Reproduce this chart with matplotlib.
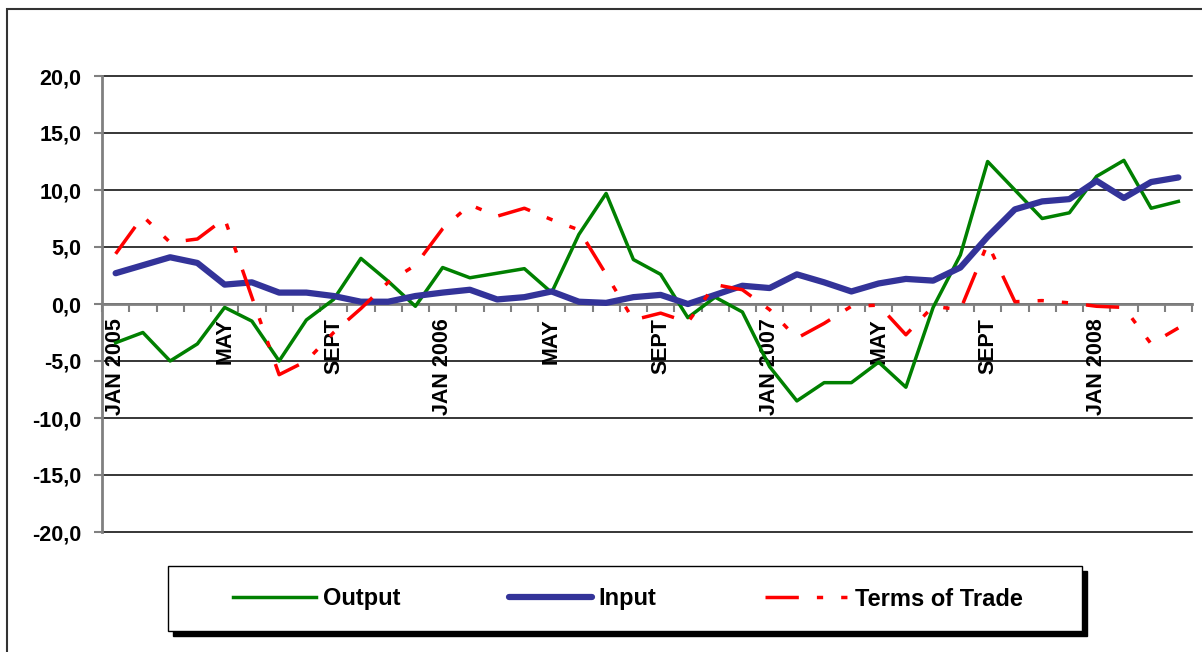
import matplotlib
matplotlib.use("Agg")
import matplotlib.pyplot as plt
import matplotlib.patches as mpatches
from matplotlib.ticker import FixedLocator, FuncFormatter
import numpy as np

plt.rcParams['font.family'] = ['Liberation Sans', 'DejaVu Sans']
plt.rcParams['font.weight'] = 'bold'
plt.rcParams['lines.scale_dashes'] = False

# monthly data, Jan 2005 - Apr 2008 (% change)
output_vals = [-3.4, -2.5, -5.0, -3.5, -0.3, -1.5, -5.0, -1.4, 0.4, 4.0,
               2.0, -0.2, 3.2, 2.3, 2.7, 3.1, 1.0, 6.1, 9.7, 3.9,
               2.6, -1.2, 0.6, -0.7, -5.5, -8.5, -6.9, -6.9, -5.1, -7.3,
               -0.3, 4.3, 12.5, 10.0, 7.5, 8.0, 11.2, 12.6, 8.4, 9.0]
input_vals = [2.7, 3.4, 4.1, 3.6, 1.7, 1.9, 1.0, 1.0, 0.7, 0.2,
              0.2, 0.7, 1.0, 1.25, 0.4, 0.6, 1.1, 0.2, 0.1, 0.6,
              0.8, 0.0, 0.8, 1.6, 1.4, 2.6, 1.9, 1.1, 1.8, 2.2,
              2.05, 3.2, 5.9, 8.3, 9.0, 9.2, 10.8, 9.3, 10.7, 11.1]
tot_vals = [4.4, 7.7, 5.4, 5.7, 7.5, 0.6, -6.2, -5.0, -2.5, -0.4,
            1.9, 3.4, 6.6, 8.7, 7.7, 8.4, 7.4, 6.5, 2.6, -1.4,
            -0.8, -1.6, 1.7, 1.25, -0.5, -3.0, -1.7, -0.2, -0.1, -2.7,
            -0.2, -0.5, 5.3, 0.2, 0.3, 0.1, -0.2, -0.3, -3.5, -2.1]

tick_pos = [0, 4, 8, 12, 16, 20, 24, 28, 32, 36]
tick_labels = ['JAN 2005', 'MAY', 'SEPT', 'JAN 2006', 'MAY', 'SEPT',
               'JAN 2007', 'MAY', 'SEPT', 'JAN 2008']

W, H = 1202, 652
fig = plt.figure(figsize=(W / 100, H / 100), dpi=100)
ax = fig.add_axes([102 / W, 1 - 532 / H, 1090 / W, 456 / H])

x = np.arange(len(output_vals))
l1, = ax.plot(x, output_vals, color='#008000', lw=2.5, label='Output', zorder=3)
l2, = ax.plot(x, input_vals, color='#333399', lw=4.5, label='Input',
              solid_capstyle='round', solid_joinstyle='round', zorder=4)
l3, = ax.plot(x, tot_vals, color='#FF0000', lw=2.5, label='Terms of Trade',
              dashes=(24, 13, 4.5, 13, 4.5, 13), dash_capstyle='butt', zorder=5)

ax.set_xlim(-0.5, len(x) - 0.5)
ax.set_ylim(-20, 20)

# y axis
ax.yaxis.set_major_locator(FixedLocator(np.arange(-20, 21, 5)))
ax.yaxis.set_major_formatter(FuncFormatter(lambda v, p: f"{v:.1f}".replace('.', ',')))
ax.tick_params(axis='y', direction='out', length=6, width=1.5, color='#808080',
               pad=9, labelsize=15.5)
ax.yaxis.grid(True, color='black', lw=1.1)
for gl in ax.get_ygridlines():
    gl.set_clip_on(False)
ax.set_axisbelow(True)

# x axis at zero
ax.spines['bottom'].set_position(('data', 0))
ax.spines['bottom'].set_color('#808080')
ax.spines['bottom'].set_linewidth(2)
ax.spines['left'].set_color('#808080')
ax.spines['left'].set_linewidth(2)
ax.spines['top'].set_visible(False)
ax.spines['right'].set_visible(False)

ax.xaxis.set_major_locator(FixedLocator(tick_pos))
ax.set_xticklabels(tick_labels, rotation=90, va='top', ha='center')
ax.xaxis.set_minor_locator(FixedLocator(np.arange(-0.5, len(x), 1)))
ax.tick_params(axis='x', which='major', length=0, pad=10, labelsize=15.5)
ax.tick_params(axis='x', which='minor', direction='out', length=6, width=1.5,
               color='#808080')

# outer chart border
fig.patches.append(mpatches.Rectangle((7 / W, -0.1), 1.2, 1.1 - 9 / H,
                                      transform=fig.transFigure, fill=False,
                                      edgecolor='#333333', lw=1.5))

# legend box with shadow
fig.patches.append(mpatches.Rectangle((173 / W, 1 - 636 / H), 914 / W, 65 / H,
                                      transform=fig.transFigure,
                                      facecolor='black', edgecolor='black', lw=1))
fig.patches.append(mpatches.Rectangle((168 / W, 1 - 631 / H), 914 / W, 65 / H,
                                      transform=fig.transFigure,
                                      facecolor='white', edgecolor='black', lw=1))
fig.legend(handles=[l1, l2, l3], loc='center',
           bbox_to_anchor=(628 / W, 1 - 599 / H), ncol=3, frameon=False,
           prop={'weight': 'bold', 'size': 17}, handlelength=3.5,
           handletextpad=0.3, columnspacing=4.6)

fig.savefig('out.png', dpi=100)
